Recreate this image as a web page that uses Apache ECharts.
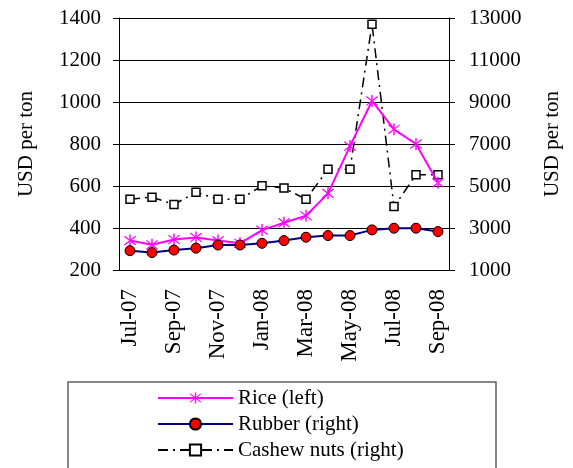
<!DOCTYPE html>
<html>
<head>
<meta charset="utf-8">
<script src="https://cdn.jsdelivr.net/npm/echarts@6/dist/echarts.min.js"></script>
<style>html,body{margin:0;padding:0;background:#fff}#c{width:573px;height:468px}</style>
</head>
<body>
<div id="c"></div>
<script>
const months = ['Jul-07','Aug-07','Sep-07','Oct-07','Nov-07','Dec-07','Jan-08','Feb-08','Mar-08','Apr-08','May-08','Jun-08','Jul-08','Aug-08','Sep-08'];
const rice = [340,320,345,355,340,327,390,425,458,565,790,1005,870,800,615];
const rubber = [1920,1830,1950,2040,2190,2190,2270,2400,2560,2640,2640,2910,2990,2990,2830];
const cashew = [4370,4470,4120,4700,4370,4370,5010,4900,4370,5800,5800,12700,4020,5530,5530];
const leftTicks = {min:200, max:1400, interval:200};
const rightTicks = {min:1000, max:13000, interval:2000};
const legendNames = ['Rice (left)','Rubber (right)','Cashew nuts (right)'];

const FONT = 'Liberation Serif';
const asterisk = 'path://M4.4 0 L5.6 0 L5.6 10 L4.4 10 Z M0 1.7 L0.6 0.9 L10 8.3 L9.4 9.1 Z M10 1.7 L9.4 0.9 L0 8.3 L0.6 9.1 Z';

const legends = legendNames.map((n, i) => ({
  orient:'horizontal', left:157, top:387 + i*26, padding:0,
  itemWidth:75, itemHeight:14,
  textStyle:{fontFamily:FONT, fontSize:21, color:'#000', lineHeight:22},
  data:[{name:n}]
}));

const chart = echarts.init(document.getElementById('c'), null, {renderer:'canvas'});
chart.setOption({
  animation:false,
  backgroundColor:'#fff',
  textStyle:{fontFamily:FONT, color:'#000'},
  grid:{left:119, right:124, top:18, bottom:198},
  graphic:[{type:'rect', shape:{x:68, y:382, width:428, height:120}, style:{fill:'none', stroke:'#606060', lineWidth:1.5}, silent:true}],
  legend:legends,
  xAxis:{
    type:'category', data:months, boundaryGap:true,
    axisLine:{lineStyle:{color:'#000', width:1}},
    axisTick:{interval:1, length:6, lineStyle:{color:'#000'}},
    axisLabel:{interval:1, rotate:90, margin:19, fontFamily:FONT, fontSize:23, color:'#000'}
  },
  yAxis:[
    {type:'value', position:'left', min:leftTicks.min, max:leftTicks.max, interval:leftTicks.interval,
     name:'USD per ton', nameLocation:'middle', nameGap:82, nameRotate:90,
     nameTextStyle:{fontFamily:FONT, fontSize:21, color:'#000'},
     axisLine:{show:true, lineStyle:{color:'#000'}},
     axisTick:{show:true, length:6, lineStyle:{color:'#000'}},
     axisLabel:{margin:18, fontFamily:FONT, fontSize:21, color:'#000', formatter:v => String(v)},
     splitLine:{show:true, lineStyle:{color:'#000', width:1}}},
    {type:'value', position:'right', min:rightTicks.min, max:rightTicks.max, interval:rightTicks.interval,
     name:'USD per ton', nameLocation:'middle', nameGap:93, nameRotate:90,
     nameTextStyle:{fontFamily:FONT, fontSize:21, color:'#000'},
     axisLine:{show:true, lineStyle:{color:'#000'}},
     axisTick:{show:true, length:6, lineStyle:{color:'#000'}},
     axisLabel:{margin:20, fontFamily:FONT, fontSize:21, color:'#000', formatter:v => String(v)},
     splitLine:{show:false}}
  ],
  series:[
    {name:'Cashew nuts (right)', type:'line', yAxisIndex:1, data:cashew, z:2,
     symbol:'rect', symbolSize:8,
     lineStyle:{color:'#000', width:1.5, type:[10,5,2,5]},
     itemStyle:{color:'#fff', borderColor:'#000', borderWidth:1.5}},
    {name:'Rice (left)', type:'line', yAxisIndex:0, data:rice, z:3,
     symbol:asterisk, symbolSize:12,
     lineStyle:{color:'#ff00ff', width:2},
     itemStyle:{color:'#ff00ff'}},
    {name:'Rubber (right)', type:'line', yAxisIndex:1, data:rubber, z:4,
     symbol:'circle', symbolSize:10,
     lineStyle:{color:'#000080', width:2},
     itemStyle:{color:'#ff0000', borderColor:'#000', borderWidth:1}}
  ]
});
</script>
</body>
</html>
